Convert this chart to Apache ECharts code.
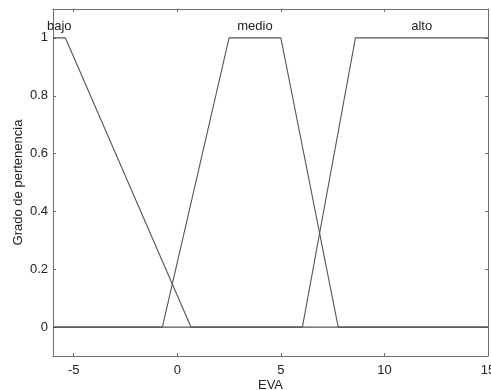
<!DOCTYPE html>
<html>
<head>
<meta charset="utf-8">
<script src="https://cdn.jsdelivr.net/npm/echarts@6/dist/echarts.min.js"></script>
<style>
html,body{margin:0;padding:0;background:#fff;}
#c{width:491px;height:390px;}
</style>
</head>
<body>
<div id="c"></div>
<script>
const xTicks = [-5, 0, 5, 10, 15];
const yTicks = [0, 0.2, 0.4, 0.6, 0.8, 1];
const bajoX = [-6, -5.4, 0.66, 15];
const bajoY = [1, 1, 0, 0];
const medioX = [-6, -0.72, 2.5, 5.0, 7.77, 15];
const medioY = [0, 0, 1, 1, 0, 0];
const altoX = [-6, 6.04, 8.6, 15];
const altoY = [0, 0, 1, 1];
const mfNames = ['bajo', 'medio', 'alto'];
const mfLabelX = [-5.7, 3.75, 11.8];
const mfLabelY = [1.04, 1.04, 1.04];

const pair = (xs, ys) => xs.map((x, i) => [x, ys[i]]);
const font = 'Liberation Sans, Arial, sans-serif';
const frame = '#6e6e6e';
const lineCol = '#555';

const chart = echarts.init(document.getElementById('c'), null, {renderer: 'canvas'});
const baseX = {
  type: 'value', min: -6, max: 15,
  axisLine: {show: true, onZero: false, lineStyle: {color: frame, width: 1}},
  axisTick: {show: true, inside: true, length: 3, customValues: xTicks, lineStyle: {color: frame}},
  splitLine: {show: false}
};
const baseY = {
  type: 'value', min: -0.1, max: 1.1,
  axisLine: {show: true, onZero: false, lineStyle: {color: frame, width: 1}},
  axisTick: {show: true, inside: true, length: 3, customValues: yTicks, lineStyle: {color: frame}},
  splitLine: {show: false}
};
chart.setOption({
  animation: false,
  backgroundColor: '#fff',
  grid: {left: 53, right: 3, top: 9, bottom: 34, containLabel: false, outerBoundsMode: 'none'},
  xAxis: [
    Object.assign({}, baseX, {
      position: 'bottom',
      name: 'EVA', nameLocation: 'middle', nameGap: 29, nameMoveOverlap: false,
      nameTextStyle: {fontFamily: font, fontSize: 13, color: '#222', verticalAlign: 'middle'},
      axisLabel: {show: true, customValues: xTicks, margin: 8, fontFamily: font, fontSize: 13, color: '#222',
        showMaxLabel: true, hideOverlap: false}
    }),
    Object.assign({}, baseX, {position: 'top', axisLabel: {show: false}})
  ],
  yAxis: [
    Object.assign({}, baseY, {
      position: 'left',
      name: 'Grado de pertenencia', nameLocation: 'middle', nameGap: 35, nameMoveOverlap: false,
      nameTextStyle: {fontFamily: font, fontSize: 13, color: '#222', verticalAlign: 'middle'},
      axisLabel: {show: true, customValues: yTicks, margin: 5, fontFamily: font, fontSize: 13, color: '#222',
        formatter: v => String(Math.round(v * 10) / 10)}
    }),
    Object.assign({}, baseY, {position: 'right', axisLabel: {show: false}})
  ],
  series: [
    {type: 'line', name: 'bajo', data: pair(bajoX, bajoY), showSymbol: false, symbol: 'none',
      lineStyle: {color: lineCol, width: 1.1}},
    {type: 'line', name: 'medio', data: pair(medioX, medioY), showSymbol: false, symbol: 'none',
      lineStyle: {color: lineCol, width: 1.1}},
    {type: 'line', name: 'alto', data: pair(altoX, altoY), showSymbol: false, symbol: 'none',
      lineStyle: {color: lineCol, width: 1.1}},
    {type: 'scatter', symbolSize: 0, silent: true,
      data: mfNames.map((n, i) => ({value: [mfLabelX[i], mfLabelY[i]], name: n})),
      itemStyle: {opacity: 1},
      label: {show: true, position: 'inside', formatter: p => p.name,
        fontFamily: font, fontSize: 13, color: '#222', opacity: 1}}
  ]
});
</script>
</body>
</html>
